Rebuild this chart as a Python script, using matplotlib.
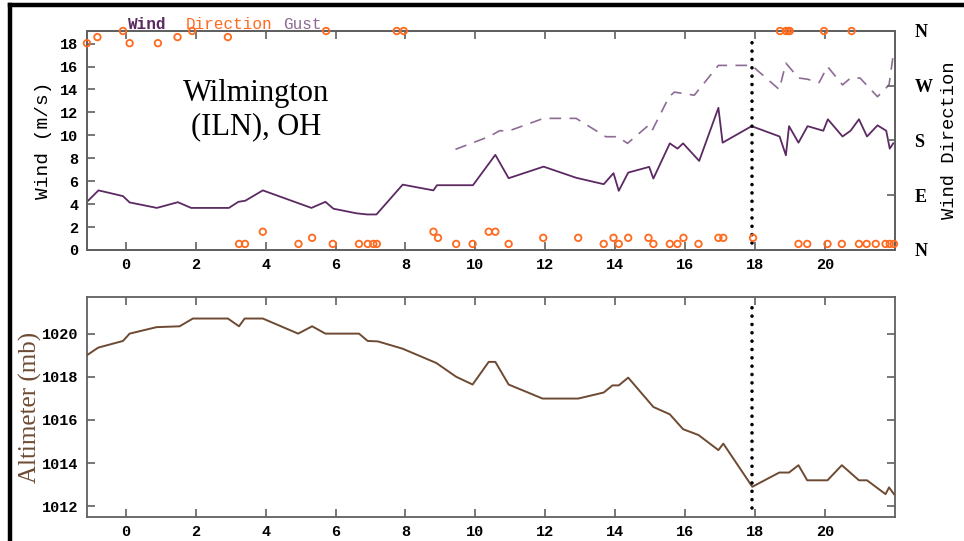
import matplotlib
matplotlib.use("Agg")
import matplotlib.pyplot as plt
from matplotlib.lines import Line2D

# hourly obs (hours after 00 UTC)
wind_hr = [-1.11, -0.78, -0.08, 0.11, 0.89, 1.49, 1.87, 2.95, 3.22, 3.42, 3.92,
           5.31, 5.71, 5.94, 6.60, 6.90, 7.17, 7.92, 8.80, 8.90, 9.93, 10.57,
           10.95, 11.95, 12.88, 13.67, 13.95, 14.10, 14.37, 14.97, 15.09, 15.56,
           15.78, 15.94, 16.40, 16.95, 17.07, 17.90, 18.70, 18.88, 18.97, 19.24,
           19.50, 19.95, 20.08, 20.50, 20.73, 20.97, 21.20, 21.50, 21.75, 21.85, 21.95]
wind_ms = [4.2, 5.2, 4.7, 4.15, 3.67, 4.17, 3.67, 3.67, 4.2, 4.3, 5.2,
           3.67, 4.2, 3.6, 3.2, 3.1, 3.1, 5.7, 5.2, 5.65, 5.65, 8.3,
           6.26, 7.27, 6.3, 5.74, 6.7, 5.16, 6.75, 7.25, 6.23, 9.3,
           8.84, 9.3, 7.77, 12.4, 9.36, 10.8, 9.9, 8.26, 10.8, 9.36,
           10.8, 10.4, 11.4, 9.9, 10.4, 11.4, 9.9, 10.87, 10.4, 8.84, 9.3]

gust_hr = [9.43, 10.40, 10.69, 10.97, 11.95, 12.88, 13.73, 14.07, 14.35, 14.95,
           15.05, 15.54, 15.69, 16.26, 16.95, 17.90, 18.69, 18.88, 19.24, 19.49,
           19.83, 20.07, 20.50, 20.73, 21.00, 21.50, 21.83, 21.94]
gust_ms = [8.78, 9.9, 10.4, 10.4, 11.48, 11.48, 9.88, 9.88, 9.3, 10.87,
           10.4, 13.36, 13.77, 13.5, 16.1, 16.1, 14.0, 16.3, 15.0, 14.9,
           14.6, 16.0, 14.4, 15.0, 15.0, 13.37, 14.4, 16.8]

dir_hr = [-1.11, -0.81, -0.08, 0.11, 0.92, 1.48, 1.90, 2.92, 5.73, 7.75, 7.95,
          18.71, 18.88, 18.95, 18.99, 19.97, 20.76,
          3.24, 3.41, 3.92, 4.94, 5.33, 5.92, 6.67, 6.92, 7.08, 7.18, 8.80, 8.93,
          9.45, 9.92, 10.38, 10.57, 10.95, 11.94, 12.94, 13.67, 13.95, 14.10,
          14.37, 14.95, 15.09, 15.56, 15.78, 15.95, 16.38, 16.95, 17.09, 17.94,
          19.24, 19.49, 20.07, 20.48, 20.97, 21.19, 21.45, 21.73, 21.85, 21.97]
dir_deg = [340, 350, 360, 340, 340, 350, 360, 350, 360, 360, 360,
           360, 360, 360, 360, 360, 360,
           10, 10, 30, 10, 20, 10, 10, 10, 10, 10, 30, 20,
           10, 10, 30, 30, 10, 20, 20, 10, 20, 10,
           20, 20, 10, 10, 10, 20, 10, 20, 20, 20,
           10, 10, 10, 10, 10, 10, 10, 10, 10, 10]

alt_hr = [-1.11, -0.79, -0.08, 0.11, 0.88, 1.54, 1.92, 2.92, 3.24, 3.40, 3.92,
          4.93, 5.33, 5.71, 6.67, 6.92, 7.21, 7.92, 8.88, 9.45, 9.92, 10.38,
          10.57, 10.95, 11.92, 12.94, 13.67, 13.92, 14.10, 14.37, 15.09, 15.56,
          15.94, 16.38, 16.95, 17.09, 17.92, 18.69, 18.97, 19.24, 19.49, 20.07,
          20.48, 20.97, 21.20, 21.73, 21.83, 21.97]
alt_mb = [1019.0, 1019.35, 1019.66, 1020.0, 1020.3, 1020.34, 1020.7, 1020.7, 1020.34, 1020.7, 1020.7,
          1020.0, 1020.34, 1020.0, 1020.0, 1019.66, 1019.64, 1019.3, 1018.64, 1018.0, 1017.64, 1018.69,
          1018.69, 1017.64, 1016.99, 1016.99, 1017.27, 1017.6, 1017.6, 1017.96, 1016.6, 1016.26,
          1015.57, 1015.3, 1014.6, 1014.9, 1012.9, 1013.56, 1013.56, 1013.9, 1013.2, 1013.2,
          1013.9, 1013.2, 1013.2, 1012.56, 1012.87, 1012.56]

event_hr = 17.9
hr_ticks = [0, 2, 4, 6, 8, 10, 12, 14, 16, 18, 20]
dir_ticks = [0, 90, 180, 270, 360]
dir_labels = ['N', 'E', 'S', 'W', 'N']

WIND_C = '#5b2a62'
DIR_C = '#ff6a1e'
GUST_C = '#8d6b95'
ALT_C = '#6e4a33'
SPINE_C = '#606060'
mono = 'Liberation Mono'

fig = plt.figure(figsize=(9.64, 5.41), dpi=100)
ax1 = fig.add_axes([0.0902, 0.5379, 0.8382, 0.4048])
ax2 = fig.add_axes([0.0902, 0.0444, 0.8382, 0.4067])


def style(ax):
    for sp in ax.spines.values():
        sp.set_color(SPINE_C)
        sp.set_linewidth(1.3)
    ax.tick_params(direction='in', length=6, width=1.2, color=SPINE_C,
                   top=True, right=True, labelsize=11, pad=6)
    for lb in ax.get_xticklabels() + ax.get_yticklabels():
        lb.set_fontfamily(mono)
        lb.set_fontweight('bold')
    ax.set_xlim(-1.11, 22.0)
    ax.set_xticks(hr_ticks)


# wind panel
ax1.plot(wind_hr, wind_ms, color=WIND_C, lw=1.3, zorder=3)
ax1.plot(gust_hr, gust_ms, color=GUST_C, lw=1.2, dashes=(7, 5), zorder=3)
ax1.set_ylim(0, 19.1)
ax1.set_yticks(range(0, 19, 2))
style(ax1)
ax1.tick_params(right=False)
ax1.set_ylabel('Wind (m/s)', fontfamily=mono, fontsize=14, labelpad=6)
ax1.axvline(event_hr, ymin=0.03, ymax=0.98, color='black', lw=2.6,
            dashes=(0.01, 2.3), dash_capstyle='round', zorder=4)

axd = ax1.twinx()
axd.scatter(dir_hr, dir_deg, s=22, facecolors='none', edgecolors=DIR_C,
            linewidths=1.3, clip_on=False, zorder=5)
axd.set_ylim(0, 360)
axd.set_yticks(dir_ticks)
axd.set_yticklabels(dir_labels, fontfamily='Liberation Serif', fontweight='bold', fontsize=13)
axd.tick_params(direction='in', length=6, width=1.2, color=SPINE_C, pad=14)
for sp in axd.spines.values():
    sp.set_color(SPINE_C)
    sp.set_linewidth(1.3)
axd.set_ylabel('Wind Direction', fontfamily=mono, fontsize=13.5, labelpad=6)

fig.text(0.2656, 0.797, 'Wilmington\n(ILN), OH', ha='center', va='center',
         fontfamily='Liberation Serif', fontsize=22, linespacing=1.2)

# legend words above the wind panel
leg_y = 1 - 29 / 541
fig.text(128 / 964, leg_y, 'Wind', color=WIND_C, fontfamily=mono, fontweight='bold',
         fontsize=11.5, va='baseline')
fig.text(186 / 964, leg_y, 'Direction', color=DIR_C, fontfamily=mono,
         fontsize=11.5, va='baseline')
fig.text(283 / 964, leg_y, 'Gust', color=GUST_C, fontfamily=mono,
         fontsize=11.5, va='baseline')

# altimeter panel
ax2.plot(alt_hr, alt_mb, color=ALT_C, lw=1.4, zorder=3)
ax2.set_ylim(1011.5, 1021.7)
ax2.set_yticks([1012, 1014, 1016, 1018, 1020])
style(ax2)
ax2.set_ylabel('Altimeter (mb)', fontfamily='Liberation Serif', fontsize=18,
               color=ALT_C, labelpad=0)
ax2.axvline(event_hr, ymin=0.04, ymax=0.97, color='black', lw=2.6,
            dashes=(0.01, 2.3), dash_capstyle='round', zorder=4)

# black frame on the left and top edges
fig.add_artist(Line2D([10 / 964, 10 / 964], [0, 1 - 5 / 541], color='black', lw=3.2,
                      transform=fig.transFigure))
fig.add_artist(Line2D([10 / 964, 1], [1 - 5 / 541, 1 - 5 / 541], color='black', lw=3.2,
                      transform=fig.transFigure))

fig.savefig('out.png', dpi=100)
